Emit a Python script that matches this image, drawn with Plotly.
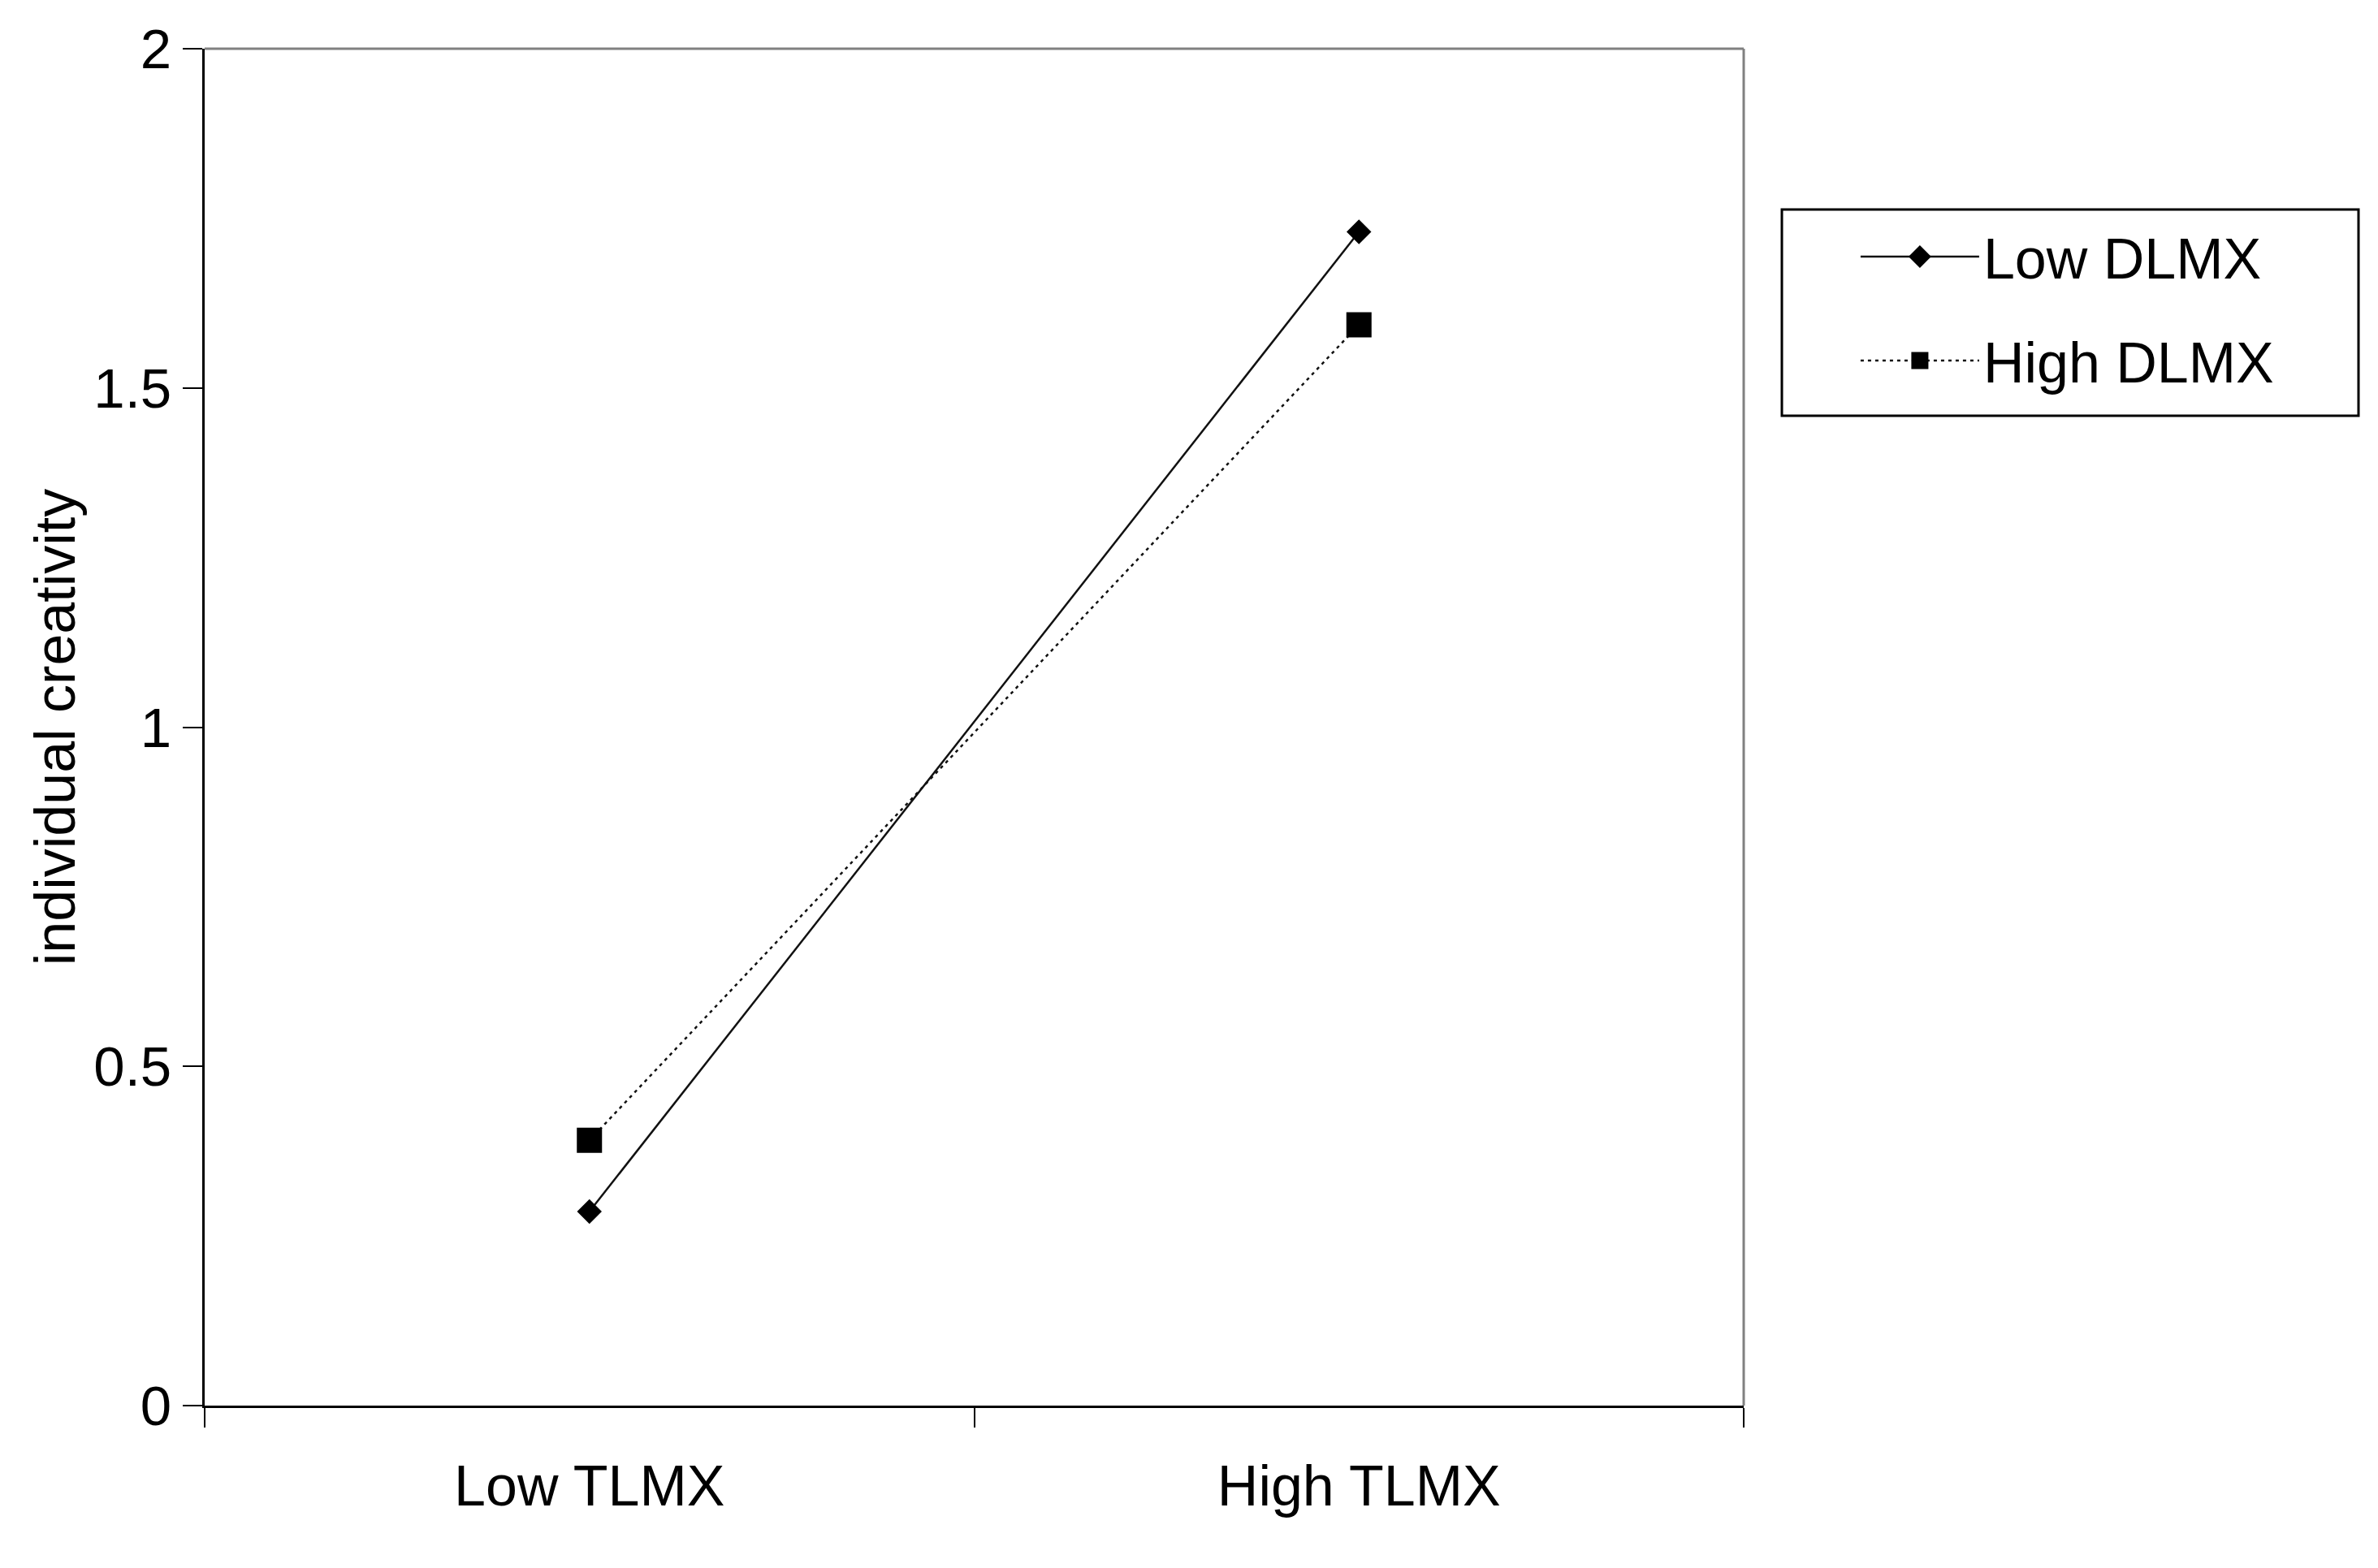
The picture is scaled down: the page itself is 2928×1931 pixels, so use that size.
import plotly.graph_objects as go

categories = ["Low TLMX", "High TLMX"]
low_dlmx = [0.286, 1.73]
high_dlmx = [0.391, 1.593]
series_names = ["Low DLMX", "High DLMX"]
y_ticks = [0, 0.5, 1, 1.5, 2]
y_tick_labels = ["0", "0.5", "1", "1.5", "2"]

FONT = "Liberation Sans, Arial, sans-serif"

fig = go.Figure()
fig.add_trace(go.Scatter(
    x=categories, y=low_dlmx, name=series_names[0], mode="lines+markers",
    legendgroup="a",
    line=dict(color="#111111", width=2.5, dash="solid"),
    marker=dict(symbol="diamond", size=18, color="black", line=dict(color="black", width=5)),
))
fig.add_trace(go.Scatter(
    x=categories, y=high_dlmx, name=series_names[1], mode="lines+markers",
    legendgroup="b",
    line=dict(color="#111111", width=2.5, dash="4px,5px"),
    marker=dict(symbol="square", size=26, color="black", line=dict(color="black", width=5)),
))

# plot area: x 252..2147, y 60..1731 in the page (body margin 8px)
fig.update_layout(
    width=2912, height=1915,
    margin=dict(l=244, r=773, t=52, b=192),
    paper_bgcolor="white", plot_bgcolor="white",
    font=dict(family=FONT, size=70, color="black"),
    showlegend=True,
    legend=dict(
        x=1.0733, y=0.8779, xanchor="left", yanchor="top",
        borderwidth=0, bgcolor="rgba(0,0,0,0)",
        font=dict(family=FONT, size=70, color="black"),
        traceorder="grouped", tracegroupgap=34,
        itemwidth=146,
    ),
    xaxis=dict(
        type="category", range=[-0.5, 1.5],
        tickson="boundaries", ticks="outside", ticklen=24, tickwidth=2, tickcolor="black",
        showline=True, linecolor="black", linewidth=3,
        showgrid=False, zeroline=False,
        tickfont=dict(family=FONT, size=70),
        ticklabelstandoff=36,
    ),
    yaxis=dict(
        range=[0, 2], tickvals=y_ticks, ticktext=y_tick_labels,
        ticks="outside", ticklen=24, tickwidth=2, tickcolor="black",
        showline=True, linecolor="black", linewidth=3,
        showgrid=False, zeroline=False,
        tickfont=dict(family=FONT, size=69),
        title=dict(text="individual creativity", font=dict(family=FONT, size=70), standoff=0),
    ),
    shapes=[
        dict(type="line", xref="paper", yref="paper", x0=0, x1=1, y0=1, y1=1,
             line=dict(color="#808080", width=3)),
        dict(type="line", xref="paper", yref="paper", x0=1, x1=1, y0=0, y1=1,
             line=dict(color="#808080", width=3)),
        dict(type="rect", xref="paper", yref="paper",
             x0=1.0248, x1=1.39947, y0=0.72950, y1=0.88151,
             line=dict(color="black", width=3), fillcolor="rgba(0,0,0,0)"),
    ],
)

fig.write_html("out.html")
